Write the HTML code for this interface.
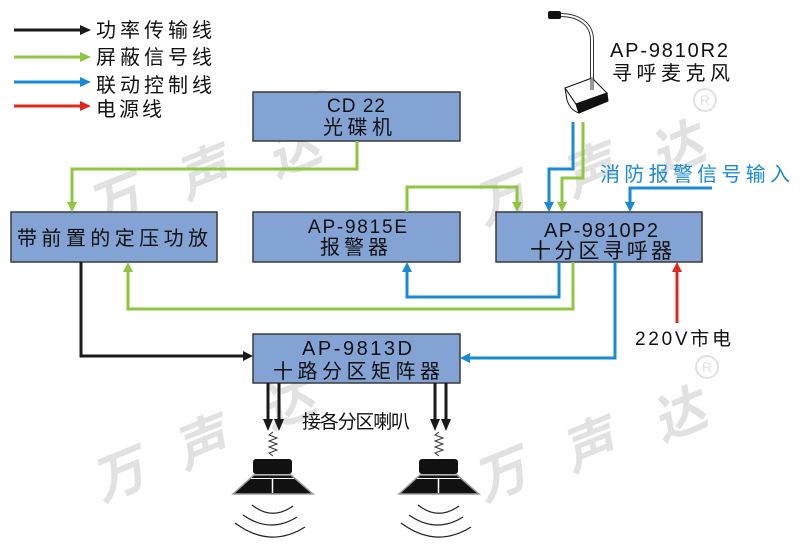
<!DOCTYPE html>
<html><head><meta charset="utf-8"><style>
html,body{margin:0;padding:0;background:#fff;}
svg{display:block;}
text{font-family:"Liberation Sans","Noto Sans CJK SC",sans-serif;}
</style></head><body>
<svg width="800" height="548" viewBox="0 0 800 548" xmlns="http://www.w3.org/2000/svg">
<rect width="800" height="548" fill="#fff"/>

<!-- watermarks -->
<g fill="#e1e1e1" font-size="52" font-weight="bold" font-family="Liberation Sans, Noto Sans CJK SC, sans-serif">
  <text transform="translate(122,218) rotate(-22) skewX(-12)" text-anchor="middle">万</text>
  <text transform="translate(210,190) rotate(-22) skewX(-12)" text-anchor="middle">声</text>
  <text transform="translate(300,168) rotate(-22) skewX(-12)" text-anchor="middle">达</text>
  <text transform="translate(508,216) rotate(-22) skewX(-12)" text-anchor="middle">万</text>
  <text transform="translate(596,188) rotate(-22) skewX(-12)" text-anchor="middle">声</text>
  <text transform="translate(684,166) rotate(-22) skewX(-12)" text-anchor="middle">达</text>
  <text transform="translate(126,492) rotate(-22) skewX(-12)" text-anchor="middle">万</text>
  <text transform="translate(208,460) rotate(-22) skewX(-12)" text-anchor="middle">声</text>
  <text transform="translate(295,420) rotate(-22) skewX(-12)" text-anchor="middle">达</text>
  <text transform="translate(508,492) rotate(-22) skewX(-12)" text-anchor="middle">万</text>
  <text transform="translate(596,462) rotate(-22) skewX(-12)" text-anchor="middle">声</text>
  <text transform="translate(686,432) rotate(-22) skewX(-12)" text-anchor="middle">达</text>
</g>
<g fill="none" stroke="#e1e1e1" stroke-width="2">
  <circle cx="322" cy="102" r="11"/>
  <circle cx="705" cy="100" r="11"/>
  <circle cx="317" cy="365" r="11"/>
  <circle cx="707" cy="367" r="11"/>
</g>
<g fill="#e1e1e1" font-size="14" text-anchor="middle">
  <text x="322" y="107">R</text>
  <text x="705" y="105">R</text>
  <text x="317" y="370">R</text>
  <text x="707" y="372">R</text>
</g>

<!-- legend -->
<g stroke-width="3">
  <line x1="14" y1="30" x2="82" y2="30" stroke="#1a1a1a"/>
  <line x1="14" y1="57" x2="82" y2="57" stroke="#8dc63f"/>
  <line x1="14" y1="82" x2="82" y2="82" stroke="#1a8ad6"/>
  <line x1="14" y1="106" x2="82" y2="106" stroke="#e3261d"/>
</g>
<polygon points="80,25 80,35 91,30" fill="#1a1a1a"/>
<polygon points="80,52 80,62 91,57" fill="#8dc63f"/>
<polygon points="80,77 80,87 91,82" fill="#1a8ad6"/>
<polygon points="80,101 80,111 91,106" fill="#e3261d"/>
<g font-size="20" fill="#111">
  <text x="96" y="37" textLength="116" lengthAdjust="spacing">功率传输线</text>
  <text x="96" y="64" textLength="116" lengthAdjust="spacing">屏蔽信号线</text>
  <text x="96" y="92" textLength="116" lengthAdjust="spacing">联动控制线</text>
  <text x="96" y="116" textLength="66" lengthAdjust="spacing">电源线</text>
</g>

<!-- boxes -->
<g fill="#84a3d5" stroke="#3a3a3a" stroke-width="1.5">
  <rect x="253" y="92" width="207" height="49"/>
  <rect x="11" y="212" width="206" height="50"/>
  <rect x="253" y="212" width="207" height="50"/>
  <rect x="496" y="212" width="206" height="50"/>
  <rect x="253" y="334" width="207" height="49"/>
</g>
<g fill="#111">
  <text x="327" y="112" font-size="19" textLength="58" lengthAdjust="spacing">CD 22</text>
  <text x="323" y="134" font-size="20" textLength="69" lengthAdjust="spacing">光碟机</text>
  <text x="17" y="245" font-size="20" textLength="191" lengthAdjust="spacing">带前置的定压功放</text>
  <text x="308" y="233" font-size="19" textLength="99" lengthAdjust="spacing">AP-9815E</text>
  <text x="320" y="254" font-size="20" textLength="68" lengthAdjust="spacing">报警器</text>
  <text x="544" y="237" font-size="20" textLength="114" lengthAdjust="spacing">AP-9810P2</text>
  <text x="530" y="258" font-size="21" textLength="142" lengthAdjust="spacing">十分区寻呼器</text>
  <text x="302" y="355" font-size="20" textLength="110" lengthAdjust="spacing">AP-9813D</text>
  <text x="273" y="378" font-size="20" textLength="167" lengthAdjust="spacing">十路分区矩阵器</text>
</g>

<!-- connectors -->
<g fill="none" stroke-width="3" stroke-linejoin="miter">
  <path d="M357,141 V169 H72 V203" stroke="#8dc63f"/>
  <path d="M407,212 V187 H517 V203" stroke="#8dc63f"/>
  <path d="M573,122 V169 H549 V203" stroke="#1a8ad6"/>
  <path d="M583,122 V178 H562 V203" stroke="#8dc63f"/>
  <path d="M712,188 H630 V203" stroke="#1a8ad6"/>
  <path d="M559,262 V297 H407 V271" stroke="#1a8ad6"/>
  <path d="M573,262 V309 H128 V271" stroke="#8dc63f"/>
  <path d="M615,262 V358 H469" stroke="#1a8ad6"/>
  <path d="M677,323 V271" stroke="#e3261d"/>
  <path d="M81,262 V356 H244" stroke="#1a1a1a"/>
</g>
<polygon points="67,202 77,202 72,212" fill="#8dc63f"/>
<polygon points="512,202 522,202 517,212" fill="#8dc63f"/>
<polygon points="544,202 554,202 549,212" fill="#1a8ad6"/>
<polygon points="557,202 567,202 562,212" fill="#8dc63f"/>
<polygon points="625,202 635,202 630,212" fill="#1a8ad6"/>
<polygon points="402,272 412,272 407,262" fill="#1a8ad6"/>
<polygon points="123,272 133,272 128,262" fill="#8dc63f"/>
<polygon points="470,353 470,363 460,358" fill="#1a8ad6"/>
<polygon points="672,272 682,272 677,262" fill="#e3261d"/>
<polygon points="243,351 243,361 253,356" fill="#1a1a1a"/>

<!-- labels -->
<text x="600" y="181" font-size="20" fill="#1a8ad6" textLength="190" lengthAdjust="spacing">消防报警信号输入</text>
<text x="635" y="345" font-size="19" fill="#111" textLength="96" lengthAdjust="spacing">220V市电</text>
<text x="610" y="57" font-size="20" fill="#111" textLength="118" lengthAdjust="spacing">AP-9810R2</text>
<text x="612" y="80" font-size="20" fill="#111" textLength="118" lengthAdjust="spacing">寻呼麦克风</text>
<text x="302" y="428" font-size="19" fill="#111" textLength="108" lengthAdjust="spacing">接各分区喇叭</text>

<!-- microphone -->
<path d="M560,15 C576,15 592,22 592,40 L592,90" fill="none" stroke="#333" stroke-width="4"/>
<path d="M560,15 C576,15 592,22 592,40 L592,90" fill="none" stroke="#fff" stroke-width="2"/>
<rect x="548" y="11" width="13" height="8" rx="2" fill="#111"/>
<path d="M565,88 L567,100 Q570,110 579,113 L576,104 Z" fill="#fff" stroke="#111" stroke-width="1"/>
<polygon points="565,88 592,78 607,93 576,104" fill="#fff" stroke="#111" stroke-width="1"/>
<path d="M592,78 L592,90" stroke="#333" stroke-width="3"/>
<path d="M592,78 L592,90" stroke="#fff" stroke-width="1"/>
<polygon points="576,104 607,93 608,101 579,113" fill="#111" stroke="#111" stroke-width="1"/>

<!-- speaker outputs -->
<g stroke="#1a1a1a" stroke-width="3">
  <line x1="268" y1="383" x2="268" y2="421"/>
  <line x1="279" y1="383" x2="279" y2="421"/>
  <line x1="435" y1="383" x2="435" y2="421"/>
  <line x1="446" y1="383" x2="446" y2="421"/>
</g>
<g fill="#1a1a1a">
  <polygon points="263,419 273,419 268,431"/>
  <polygon points="274,419 284,419 279,431"/>
  <polygon points="430,419 440,419 435,431"/>
  <polygon points="441,419 451,419 446,431"/>
</g>

<!-- speaker left -->
<g id="spk">
  <polyline points="273,432 269,435 277,438 269,441 277,444 269,447 277,450 269,453 273,456" fill="none" stroke="#333" stroke-width="1"/>
  <rect x="253" y="459" width="39" height="15" rx="3" fill="#111"/>
  <polygon points="254,475 291,475 313,494 233,494" fill="#111" stroke="#9a9a9a" stroke-width="1.5"/>
  <line x1="251" y1="478.5" x2="294" y2="478.5" stroke="#fff" stroke-width="1"/>
  <line x1="272.5" y1="479" x2="272.5" y2="493" stroke="#fff" stroke-width="1.5"/>
  <g fill="none" stroke="#222" stroke-width="1.2">
    <path d="M252,505 Q272,521 293,506"/>
    <path d="M243,515 Q270,534 297,517"/>
    <path d="M235,523 Q270,549 305,527"/>
  </g>
</g>
<g transform="translate(166,0)">
  <polyline points="273,432 269,435 277,438 269,441 277,444 269,447 277,450 269,453 273,456" fill="none" stroke="#333" stroke-width="1"/>
  <rect x="253" y="459" width="39" height="15" rx="3" fill="#111"/>
  <polygon points="254,475 291,475 313,494 233,494" fill="#111" stroke="#9a9a9a" stroke-width="1.5"/>
  <line x1="251" y1="478.5" x2="294" y2="478.5" stroke="#fff" stroke-width="1"/>
  <line x1="272.5" y1="479" x2="272.5" y2="493" stroke="#fff" stroke-width="1.5"/>
  <g fill="none" stroke="#222" stroke-width="1.2">
    <path d="M252,505 Q272,521 293,506"/>
    <path d="M243,515 Q270,534 297,517"/>
    <path d="M235,523 Q270,549 305,527"/>
  </g>
</g>
</svg>
</body></html>
